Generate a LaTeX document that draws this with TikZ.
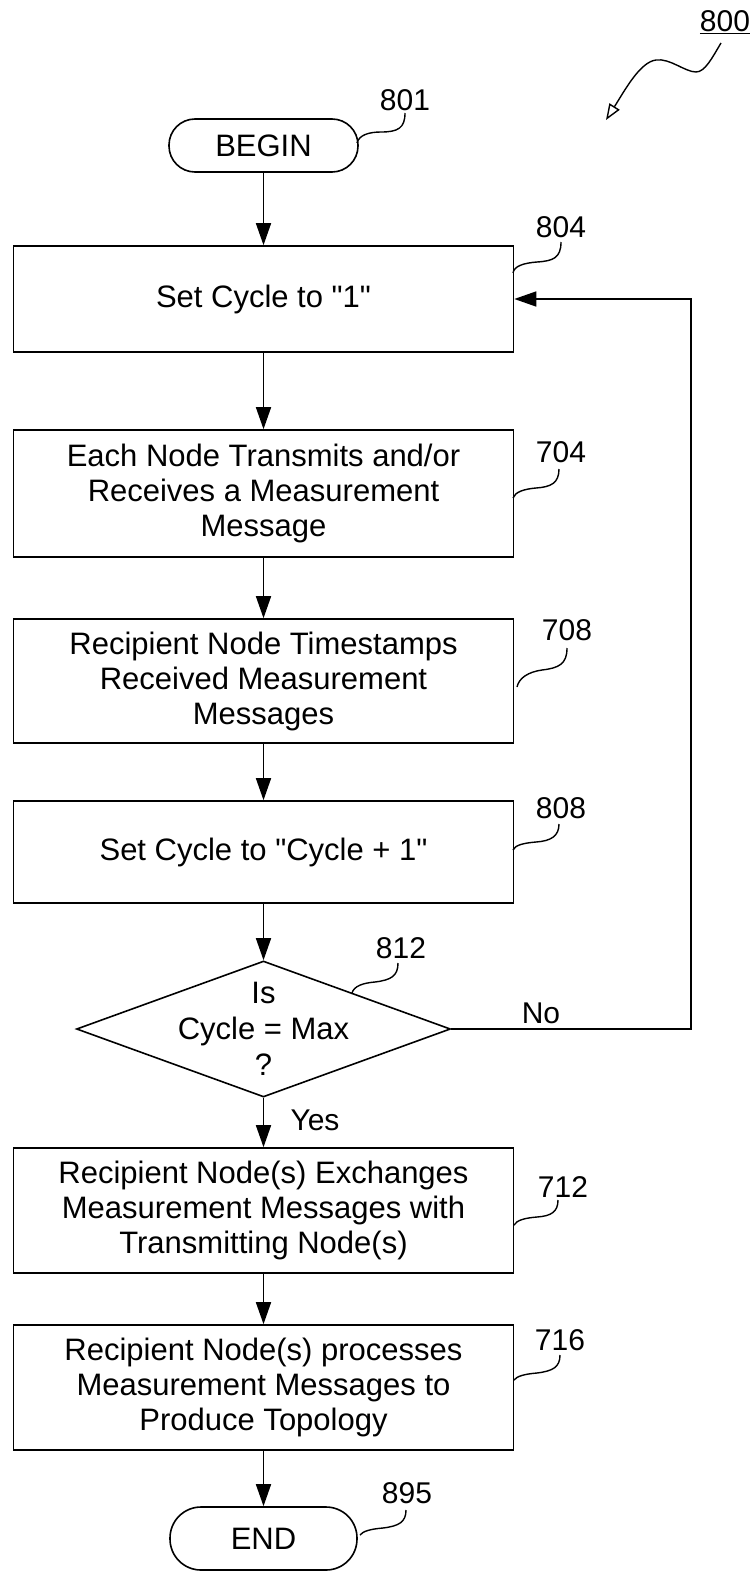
\documentclass[tikz,border=0pt]{standalone}
\usepackage{fontspec}
\setmainfont{Liberation Sans}[Ligatures=TeXOff]
\usetikzlibrary{arrows.meta,shapes.geometric}
\begin{document}
\begin{tikzpicture}[x=1pt,y=-1pt,
  flow/.style={line width=1.6pt,-{Triangle[length=22pt,width=15pt]}},
  lead/.style={line width=1.4pt},
  box/.style={draw,line width=1.6pt,rectangle,minimum width=500pt,inner sep=0pt,align=center,font=\fontsize{31}{35}\selectfont},
  term/.style={draw,line width=1.6pt,rectangle,inner sep=0pt,font=\fontsize{31}{35}\selectfont},
  lbl/.style={inner sep=0pt,font=\fontsize{30}{34}\selectfont}]
\useasboundingbox (0,0) rectangle (754,1576);

% nodes
\node[term,minimum width=189pt,minimum height=53pt,rounded corners=26pt] (begin) at (263.5,145.5) {BEGIN};
\node[box,minimum height=106pt] (b804) at (263.5,299) {Set Cycle to "1"};
\node[box,minimum height=127pt] (b704) at (263.5,493.5) {Each Node Transmits and/or\\Receives a Measurement\\Message};
\node[box,minimum height=124pt] (b708) at (263.5,681) {Recipient Node Timestamps\\Received Measurement\\Messages};
\node[box,minimum height=102pt] (b808) at (263.5,852) {Set Cycle to "Cycle + 1"};
\node[draw,diamond,line width=1.6pt,minimum width=374pt,minimum height=136pt,inner sep=0pt] (d812) at (263.5,1029) {};
\node[align=center,inner sep=0pt,font=\fontsize{31}{36}\selectfont] (dtext) at (d812.center) {Is\\Cycle = Max\\?};
\node[box,minimum height=125pt] (b712) at (263.5,1210.5) {Recipient Node(s) Exchanges\\Measurement Messages with\\Transmitting Node(s)};
\node[box,minimum height=125pt] (b716) at (263.5,1387.5) {Recipient Node(s) processes\\Measurement Messages to\\Produce Topology};
\node[term,minimum width=187pt,minimum height=63pt,rounded corners=31pt] (end) at (263.5,1538.5) {END};

% flow arrows
\draw[flow] (begin) -- (b804);
\draw[flow] (b804) -- (b704);
\draw[flow] (b704) -- (b708);
\draw[flow] (b708) -- (b808);
\draw[flow] (b808) -- (d812);
\draw[flow] (d812) -- (b712);
\draw[flow] (b712) -- (b716);
\draw[flow] (b716) -- (end);
\coordinate (loopc) at (691,1029);
\draw[flow] (d812.east) -- (loopc) |- (b804.east);

% labels
\node[lbl] (l800) at (725,22) {\underline{800}};
\node[lbl] (l801) at (405,100) {801};
\node[lbl] (l804) at (561,227) {804};
\node[lbl] (l704) at (561,452) {704};
\node[lbl] (l708) at (567,630) {708};
\node[lbl] (l808) at (561,808) {808};
\node[lbl] (l812) at (401,948) {812};
\node[lbl] (lno) at (541,1013) {No};
\node[lbl] (lyes) at (315,1120) {Yes};
\node[lbl] (l712) at (563,1187) {712};
\node[lbl] (l716) at (560,1340) {716};
\node[lbl] (l895) at (407,1493) {895};

% leader lines
\draw[lead] (405,113) .. controls (405,128) and (398,132) .. (381,132) .. controls (369,132) and (359,135) .. (357,143);
\draw[lead] (561,242) .. controls (561,258) and (553,261) .. (537,262) .. controls (524,263) and (514,266) .. (513,273);
\draw[lead] (559,469) .. controls (559,483) and (551,487) .. (536,488) .. controls (524,489) and (515,492) .. (513,498);
\draw[lead] (567,648) .. controls (567,664) and (559,668) .. (542,670) .. controls (528,672) and (519,678) .. (517,687);
\draw[lead] (559,824) .. controls (559,836) and (551,841) .. (536,842) .. controls (524,843) and (515,845) .. (513,850);
\draw[lead] (398,963) .. controls (398,976) and (391,980) .. (375,982) .. controls (363,983) and (354,986) .. (352,993);
\draw[lead] (558,1200) .. controls (558,1212) and (551,1216) .. (537,1217) .. controls (525,1218) and (517,1220) .. (514,1225);
\draw[lead] (560,1355) .. controls (560,1367) and (553,1371) .. (537,1373) .. controls (525,1374) and (517,1376) .. (514,1380);
\draw[lead] (406,1510) .. controls (406,1522) and (399,1526) .. (383,1528) .. controls (371,1529) and (363,1531) .. (360,1535);

% 800 squiggle arrow
\draw[lead,-{Triangle[open,length=16pt,width=12pt]}] (721,43) .. controls (712,58) and (705,72) .. (696,72) .. controls (685,72) and (670,58) .. (656,60) .. controls (640,62) and (625,90) .. (606,120);
\end{tikzpicture}
\end{document}
